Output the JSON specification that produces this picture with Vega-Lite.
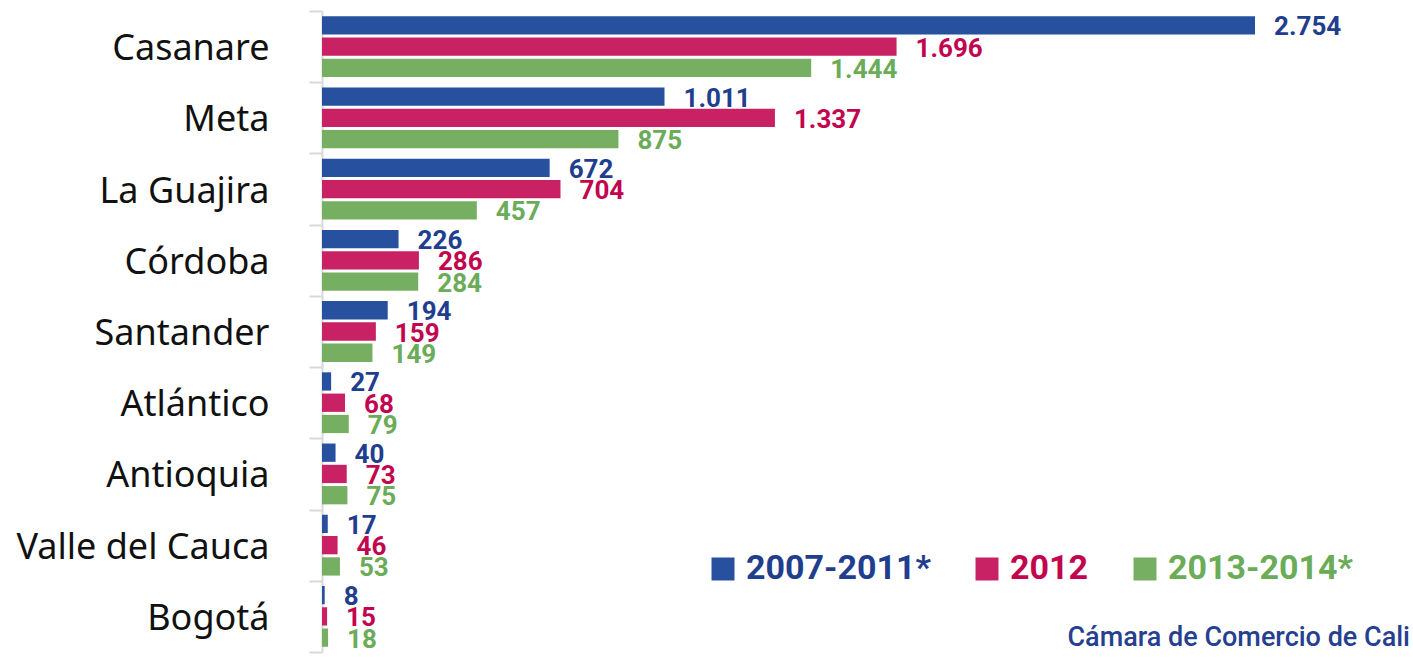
{
  "$schema": "https://vega.github.io/schema/vega-lite/v6.json",
  "width": 933,
  "height": 641,
  "autosize": {"type": "none"},
  "padding": {"left": 322, "top": 11, "right": 158, "bottom": 16},
  "background": "white",
  "config": {
    "view": {"stroke": null},
    "locale": {"number": {"decimal": ",", "thousands": ".", "grouping": [3], "currency": ["$", ""]}}
  },
  "title": {
    "text": "Cámara de Comercio de Cali",
    "orient": "bottom",
    "anchor": "end",
    "frame": "group",
    "offset": -28,
    "dx": 155,
    "font": "Roboto",
    "fontSize": 27,
    "fontWeight": 500,
    "color": "#25408f"
  },
  "data": {
    "values": [
      {"dept": "Casanare", "serie": "2007-2011*", "valor": 2754},
      {"dept": "Casanare", "serie": "2012", "valor": 1696},
      {"dept": "Casanare", "serie": "2013-2014*", "valor": 1444},
      {"dept": "Meta", "serie": "2007-2011*", "valor": 1011},
      {"dept": "Meta", "serie": "2012", "valor": 1337},
      {"dept": "Meta", "serie": "2013-2014*", "valor": 875},
      {"dept": "La Guajira", "serie": "2007-2011*", "valor": 672},
      {"dept": "La Guajira", "serie": "2012", "valor": 704},
      {"dept": "La Guajira", "serie": "2013-2014*", "valor": 457},
      {"dept": "Córdoba", "serie": "2007-2011*", "valor": 226},
      {"dept": "Córdoba", "serie": "2012", "valor": 286},
      {"dept": "Córdoba", "serie": "2013-2014*", "valor": 284},
      {"dept": "Santander", "serie": "2007-2011*", "valor": 194},
      {"dept": "Santander", "serie": "2012", "valor": 159},
      {"dept": "Santander", "serie": "2013-2014*", "valor": 149},
      {"dept": "Atlántico", "serie": "2007-2011*", "valor": 27},
      {"dept": "Atlántico", "serie": "2012", "valor": 68},
      {"dept": "Atlántico", "serie": "2013-2014*", "valor": 79},
      {"dept": "Antioquia", "serie": "2007-2011*", "valor": 40},
      {"dept": "Antioquia", "serie": "2012", "valor": 73},
      {"dept": "Antioquia", "serie": "2013-2014*", "valor": 75},
      {"dept": "Valle del Cauca", "serie": "2007-2011*", "valor": 17},
      {"dept": "Valle del Cauca", "serie": "2012", "valor": 46},
      {"dept": "Valle del Cauca", "serie": "2013-2014*", "valor": 53},
      {"dept": "Bogotá", "serie": "2007-2011*", "valor": 8},
      {"dept": "Bogotá", "serie": "2012", "valor": 15},
      {"dept": "Bogotá", "serie": "2013-2014*", "valor": 18}
    ]
  },
  "encoding": {
    "y": {
      "field": "dept",
      "type": "nominal",
      "sort": ["Casanare", "Meta", "La Guajira", "Córdoba", "Santander", "Atlántico", "Antioquia", "Valle del Cauca", "Bogotá"],
      "scale": {"paddingInner": 0, "paddingOuter": 0},
      "axis": {
        "title": null,
        "domainColor": "#d9d9d9",
        "domainWidth": 2,
        "tickColor": "#d9d9d9",
        "tickWidth": 2,
        "tickSize": 13,
        "tickBand": "extent",
        "labelFont": "Noto Sans",
        "labelFontSize": 36,
        "labelColor": "#111111",
        "labelPadding": 40,
        "labelOffset": 2,
        "labelLimit": 400
      }
    },
    "yOffset": {
      "field": "serie",
      "type": "nominal",
      "sort": ["2007-2011*", "2012", "2013-2014*"],
      "scale": {"paddingInner": 0.14, "paddingOuter": 0.245}
    },
    "x": {
      "field": "valor",
      "type": "quantitative",
      "scale": {"domain": [0, 2754], "nice": false, "zero": true},
      "axis": null
    }
  },
  "layer": [
    {
      "mark": {"type": "bar"},
      "encoding": {
        "color": {
          "field": "serie",
          "type": "nominal",
          "scale": {"domain": ["2007-2011*", "2012", "2013-2014*"], "range": ["#27509e", "#c82264", "#77af62"]},
          "legend": {
            "title": null,
            "orient": "none",
            "legendX": 384,
            "legendY": 541,
            "direction": "horizontal",
            "symbolType": "square",
            "symbolSize": 529,
            "symbolStrokeWidth": 0,
            "symbolOpacity": 1,
            "labelFont": "Roboto",
            "labelFontSize": 34,
            "labelFontWeight": "bold",
            "labelOffset": 6,
            "columnPadding": 39,
            "padding": 0,
            "labelLimit": 400,
            "encode": {
              "labels": {
                "update": {
                  "fill": [
                    {"test": "datum.value === '2007-2011*'", "value": "#1f3e8e"},
                    {"test": "datum.value === '2012'", "value": "#c2054f"},
                    {"value": "#6aac58"}
                  ]
                }
              }
            }
          }
        }
      }
    },
    {
      "mark": {"type": "text", "align": "left", "baseline": "middle", "dx": 19, "dy": 2, "font": "Roboto", "fontSize": 26, "fontWeight": "bold"},
      "encoding": {
        "text": {"field": "valor", "type": "quantitative", "format": ",d"},
        "color": {
          "field": "serie",
          "type": "nominal",
          "scale": {"domain": ["2007-2011*", "2012", "2013-2014*"], "range": ["#1f3e8e", "#c2054f", "#6aac58"]},
          "legend": null
        }
      }
    }
  ],
  "resolve": {"scale": {"color": "independent"}}
}
